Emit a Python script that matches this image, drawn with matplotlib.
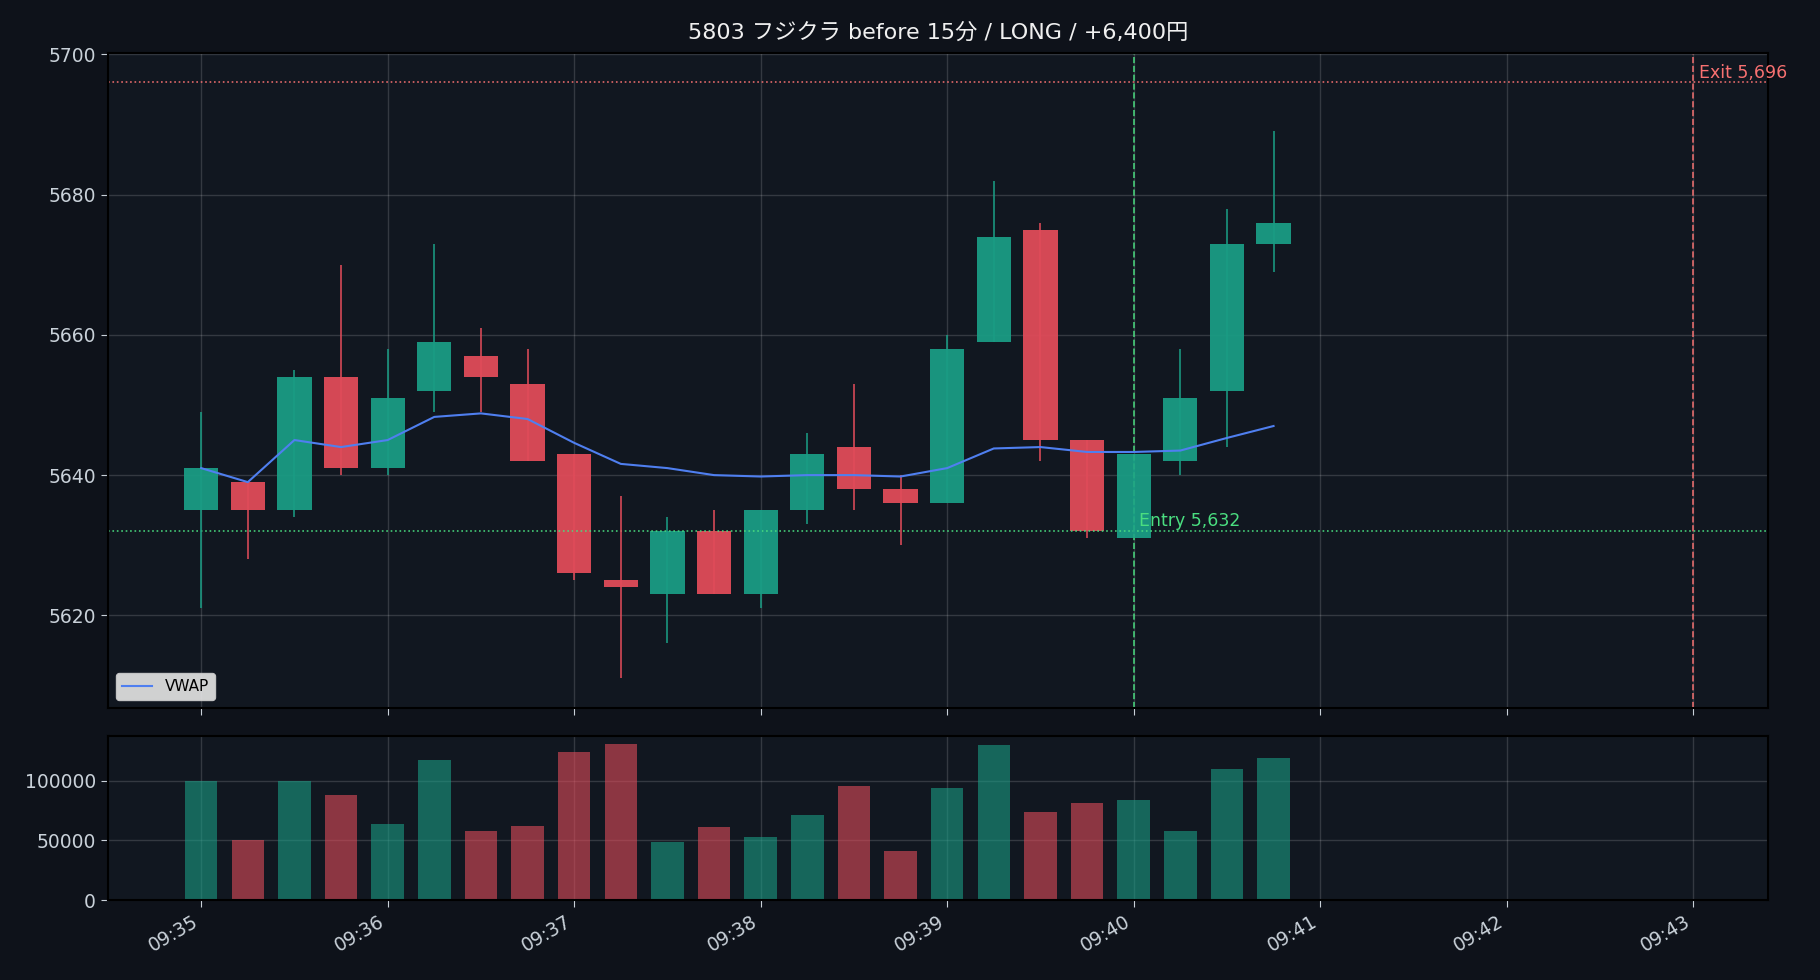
import numpy as np
import pandas as pd
import matplotlib
matplotlib.use("Agg")
import matplotlib.dates as mdates
from matplotlib import pyplot as plt

# 15 second bars
times = ["09:35:00", "09:35:15", "09:35:30", "09:35:45",
         "09:36:00", "09:36:15", "09:36:30", "09:36:45",
         "09:37:00", "09:37:15", "09:37:30", "09:37:45",
         "09:38:00", "09:38:15", "09:38:30", "09:38:45",
         "09:39:00", "09:39:15", "09:39:30", "09:39:45",
         "09:40:00", "09:40:15", "09:40:30", "09:40:45"]
opens = [5635, 5639, 5635, 5654, 5641, 5652, 5657, 5653,
         5643, 5625, 5623, 5632, 5623, 5635, 5644, 5638,
         5636, 5659, 5675, 5645, 5631, 5642, 5652, 5673]
highs = [5649, 5639, 5655, 5670, 5658, 5673, 5661, 5658,
         5643, 5637, 5634, 5635, 5635, 5646, 5653, 5640,
         5660, 5682, 5676, 5645, 5643, 5658, 5678, 5689]
lows = [5621, 5628, 5634, 5640, 5640, 5649, 5649, 5642,
        5625, 5611, 5616, 5623, 5621, 5633, 5635, 5630,
        5636, 5659, 5642, 5631, 5631, 5640, 5644, 5669]
closes = [5641, 5635, 5654, 5641, 5651, 5659, 5654, 5642,
          5626, 5624, 5632, 5623, 5635, 5643, 5638, 5636,
          5658, 5674, 5645, 5632, 5643, 5651, 5673, 5676]
volumes = [100000, 50000, 100000, 88000, 64000, 117000, 58000, 62000,
           124000, 131000, 49000, 61000, 53000, 71000, 96000, 41000,
           94000, 130000, 74000, 81000, 84000, 58000, 110000, 119000]
vwap = [5641.0, 5639.0, 5645.0, 5644.0, 5645.0, 5648.3, 5648.8, 5648.0,
        5644.6, 5641.6, 5641.0, 5640.0, 5639.8, 5640.0, 5640.0, 5639.8,
        5641.0, 5643.8, 5644.0, 5643.3, 5643.3, 5643.5, 5645.3, 5647.0]

entry_time, entry_price = "09:40:00", 5632
exit_time, exit_price = "09:43:00", 5696
title = "5803 フジクラ before 15分 / LONG / +6,400円"

DAY = "2024-01-01 "
BG = "#0e121a"
FACE = "#111720"
TXT = "#c9d1d9"
UP = "#1a9c84"
DOWN = "#e04b59"

# latin in DejaVu, japanese falls back to Noto CJK
plt.rcParams["font.family"] = ["DejaVu Sans", "Noto Sans CJK JP"]

x = mdates.date2num(pd.to_datetime([DAY + t for t in times]))
o = np.array(opens)
c = np.array(closes)
up = c >= o
colors = np.where(up, UP, DOWN)
w = 11 / 86400

fig = plt.figure(figsize=(18.2, 9.8), dpi=100, facecolor=BG)
ax = fig.add_axes([0.0593, 0.2776, 0.912, 0.6684])
axv = fig.add_axes([0.0593, 0.0816, 0.912, 0.1674], sharex=ax)

for a in (ax, axv):
    a.set_facecolor(FACE)
    a.grid(True, color="white", alpha=0.15, linewidth=1)
    a.set_axisbelow(True)
    a.tick_params(colors=TXT, labelsize=13.5, length=5)
    for s in a.spines.values():
        s.set_color("black")
        s.set_linewidth(1.5)

# candles
ax.bar(x, np.abs(c - o), bottom=np.minimum(o, c), width=w, color=colors, alpha=0.95, zorder=2)
ax.vlines(x, lows, highs, colors=colors, linewidth=1.2, alpha=0.95, zorder=3)
ax.plot(x, vwap, color="#4f7ff0", linewidth=1.5, label="VWAP", zorder=4)

# entry / exit
ex = mdates.date2num(pd.Timestamp(DAY + entry_time))
xx = mdates.date2num(pd.Timestamp(DAY + exit_time))
ax.axhline(entry_price, color="#4ade80", linestyle=":", linewidth=1.2, alpha=0.9)
ax.axvline(ex, color="#4ade80", linestyle="--", linewidth=1.2, alpha=0.9)
ax.axhline(exit_price, color="#f87171", linestyle=":", linewidth=1.2, alpha=0.9)
ax.axvline(xx, color="#f87171", linestyle="--", linewidth=1.2, alpha=0.9)
ax.annotate(f"Entry {entry_price:,}", (ex, entry_price), xytext=(4, 1),
            textcoords="offset points", color="#4ade80", fontsize=12.5, va="bottom")
ax.annotate(f"Exit {exit_price:,}", (xx, exit_price), xytext=(4, 0),
            textcoords="offset points", color="#f87171", fontsize=12.5, va="bottom")

ax.set_ylim(5606.8, 5700.2)
ax.set_xlim(mdates.date2num(pd.Timestamp(DAY + "09:34:30")),
            mdates.date2num(pd.Timestamp(DAY + "09:43:24")))
ax.set_title(title, color="#f0f0f0", fontsize=16, pad=10)
leg = ax.legend(loc="lower left", fontsize=11, facecolor="#e6e6e6", framealpha=0.9)
for t in leg.get_texts():
    t.set_color("black")

# volume
axv.bar(x, volumes, width=w * 0.95, color=colors, alpha=0.6, zorder=2)
axv.xaxis.set_major_locator(mdates.MinuteLocator())
axv.xaxis.set_major_formatter(mdates.DateFormatter("%H:%M"))
plt.setp(ax.get_xticklabels(), visible=False)
plt.setp(axv.get_xticklabels(), rotation=30, ha="right")

fig.savefig("out.png", dpi=100, facecolor=BG)
